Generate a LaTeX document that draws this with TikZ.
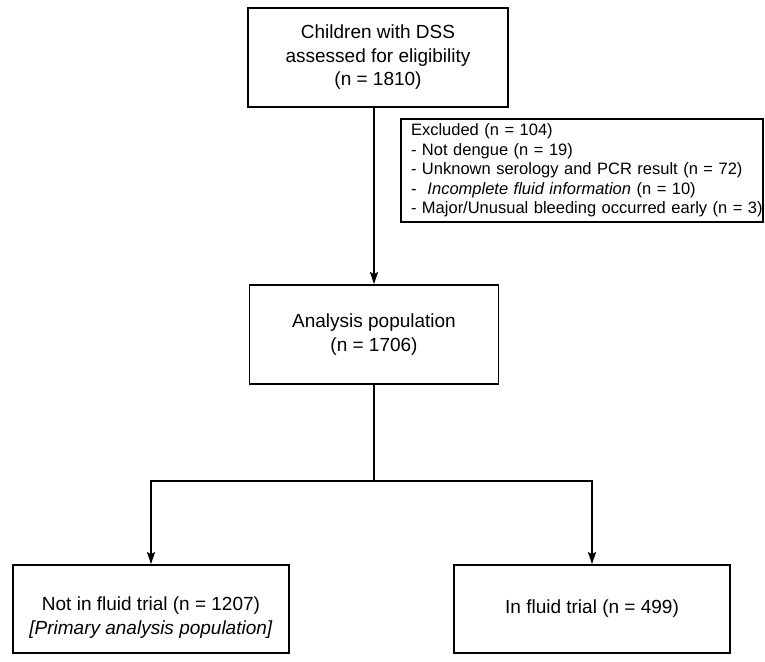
\documentclass[tikz,border=0pt]{standalone}
\usepackage{fontspec}
\setmainfont{Liberation Sans}
\usetikzlibrary{arrows.meta}
\begin{document}
\begin{tikzpicture}[x=1pt,y=-1pt,
  box/.style={draw, line width=1.8pt, align=center, inner sep=0pt,
    font=\fontsize{19}{23.5}\selectfont},
  exbox/.style={draw, line width=1.6pt, align=left, inner sep=0pt,
    font=\fontsize{16.5}{19.6}\selectfont},
  conn/.style={line width=1.8pt},
  arr/.style={conn, -{Stealth[length=12pt,width=8pt,inset=2pt]}}]
\useasboundingbox (0,0) rectangle (765,661);
\node[box, minimum width=260pt, minimum height=99pt] (top) at (378,57.5)
  {\raisebox{3pt}{Children with DSS}\\\raisebox{3pt}{assessed for eligibility}\\\raisebox{3pt}{(n = 1810)}};
\node[exbox, minimum height=103pt, text width=362pt] (ex) at (582,170.5)
  {\hspace*{10pt}\raisebox{2pt}{Excluded (n = 104)}\\
   \hspace*{10pt}\raisebox{2pt}{- Not dengue (n = 19)}\\
   \hspace*{10pt}\raisebox{2pt}{- Unknown serology and PCR result (n = 72)}\\
   \hspace*{10pt}\raisebox{2pt}{-\ \ \textit{Incomplete fluid information} (n = 10)}\\
   \hspace*{10pt}\raisebox{2pt}{- Major/Unusual bleeding occurred early (n = 3)}};
\node[box, minimum width=249pt, minimum height=99pt] (ana) at (374,334.5)
  {Analysis population\\(n = 1706)};
\node[box, minimum width=276pt, minimum height=88pt] (bl) at (151,609)
  {\raisebox{-8pt}[11pt][0pt]{Not in fluid trial (n = 1207)}\\
   \raisebox{-8pt}[11pt][0pt]{\textit{[Primary analysis population]}}};
\node[box, minimum width=276pt, minimum height=88pt] (br) at (592,609)
  {\raisebox{-1pt}{In fluid trial (n = 499)}};
\coordinate (j) at (374,481);
\draw[arr] (ana.north |- top.south) -- (ana.north);
\draw[conn] (ana.south) -- (j);
\draw[arr] (j) -| (bl.north);
\draw[arr] (j) -| (br.north);
\end{tikzpicture}
\end{document}
